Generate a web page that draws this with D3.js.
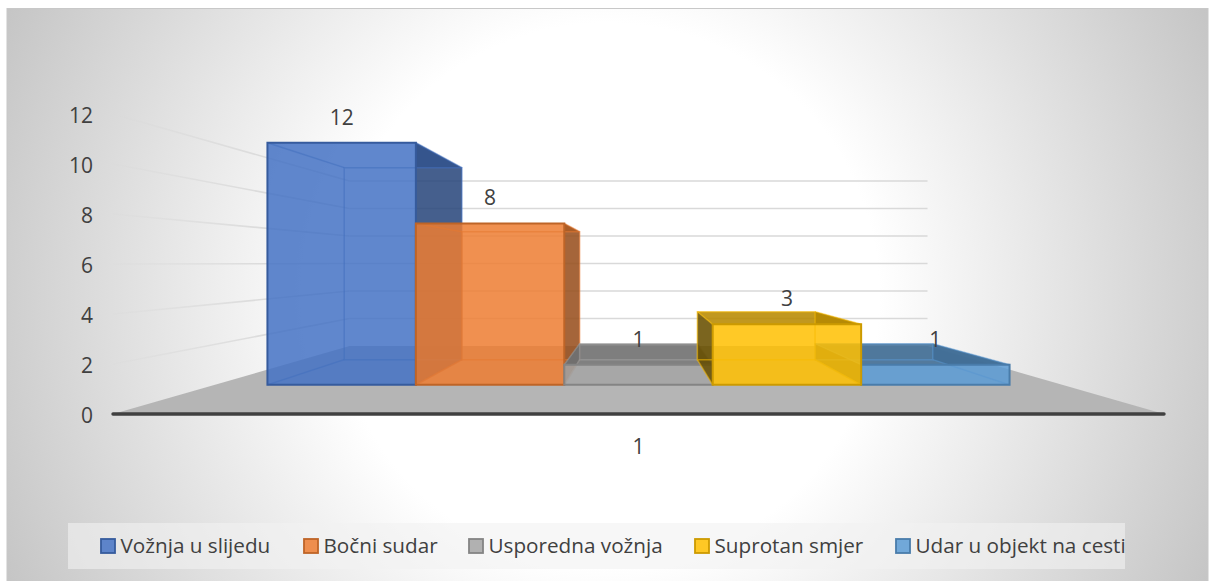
<!DOCTYPE html>
<html><head><meta charset="utf-8">
<script src="https://cdn.jsdelivr.net/npm/d3@7/dist/d3.min.js"></script>
<style>html,body{margin:0;padding:0;background:#fff;overflow:hidden}svg{display:block}text{font-family:"Open Sans","Noto Sans",sans-serif;fill:#404040}</style>
</head><body><svg id="c" width="1209" height="581"></svg>
<script>
const seriesNames = ["Vožnja u slijedu","Bočni sudar","Usporedna vožnja","Suprotan smjer","Udar u objekt na cesti"];
const seriesValues = [12,8,1,3,1];
const seriesColors = ["#4472C4","#ED7D31","#A5A5A5","#FFC000","#5B9BD5"];
const categories = ["1"];
const yTicks = [0,2,4,6,8,10,12];
const paintOrder = [0,1,2,4,3];
const legendSwatchX = [101,304,469,695,896];

const W=1209,H=581;
const svg=d3.select("#c");
const defs=svg.append("defs");

const xFront=d3.scaleLinear().domain([0,1]).range([113,1164]);
const yFront=d3.scaleLinear().domain([0,12]).range([414,114]);
const band=d3.scaleBand().domain(d3.range(seriesNames.length)).range([0.0625,0.9375]);
const cx=xFront(0.5), vy=263;
const wallDepth=0.55, barFront=0.807, barBack=0.64;
const P=(u,v,s)=>[cx+(xFront(u)-cx)*s, vy+(yFront(v)-vy)*s];
const poly=pts=>"M"+pts.map(p=>p.map(n=>n.toFixed(2)).join(",")).join("L")+"Z";

// background
const bg=defs.append("radialGradient").attr("id","bg").attr("gradientUnits","userSpaceOnUse")
 .attr("cx",607).attr("cy",295).attr("r",680);
[[0,"#ffffff"],[0.4,"#ffffff"],[1,"#c3c3c3"]].forEach(([o,c])=>bg.append("stop").attr("offset",o).attr("stop-color",c));
svg.append("rect").attr("x",7).attr("y",8.5).attr("width",1201).attr("height",574)
 .attr("fill","url(#bg)").attr("stroke","#c8c8c8").attr("stroke-width",1);

// floor
svg.append("path").attr("d",poly([P(0,0,1),P(1,0,1),P(1,0,wallDepth),P(0,0,wallDepth)])).attr("fill","#b5b5b5");

// gridlines, fading toward the front of the side wall
const fade=defs.append("linearGradient").attr("id","gridFade").attr("gradientUnits","userSpaceOnUse")
 .attr("x1",xFront(0)).attr("x2",xFront(0)+170).attr("y1",0).attr("y2",0);
[[0,"#d9d9d9",0.25],[1,"#d9d9d9",1]].forEach(([o,c,a])=>fade.append("stop").attr("offset",o).attr("stop-color",c).attr("stop-opacity",a));
const gridG=svg.append("g").attr("fill","none").attr("stroke-width",1.6);
yTicks.filter(v=>v>0).forEach(v=>{
  gridG.append("path").attr("d","M"+[P(0,v,1),P(0,v,wallDepth)].map(p=>p.join(",")).join("L")).attr("stroke","url(#gridFade)");
  gridG.append("path").attr("d","M"+[P(0,v,wallDepth),P(1,v,wallDepth)].map(p=>p.join(",")).join("L")).attr("stroke","#d9d9d9");
});

// bars
const shade=(c,f)=>{const r=d3.rgb(c);return d3.rgb(r.r*f,r.g*f,r.b*f).formatHex();};
const barsG=svg.append("g");
paintOrder.forEach(i=>{
  const v=seriesValues[i],c=seriesColors[i];
  const u0=band(i),u1=u0+band.bandwidth();
  const f=[P(u0,v,barFront),P(u1,v,barFront),P(u1,0,barFront),P(u0,0,barFront)];
  const b=[P(u0,v,barBack),P(u1,v,barBack),P(u1,0,barBack),P(u0,0,barBack)];
  const id="out"+i;
  defs.append("clipPath").attr("id",id).append("path")
    .attr("clip-rule","evenodd").attr("d",`M0,0H${W}V${H}H0Z`+poly(f));
  const g=barsG.append("g");
  const o=g.append("g").attr("clip-path",`url(#${id})`);
  const face=(pts,fill,a)=>o.append("path").attr("d",poly(pts)).attr("fill",fill).attr("fill-opacity",a);
  face(b,shade(c,0.7),0.2);
  face([f[3],f[0],b[0],b[3]],shade(c,0.4),0.85);
  face([f[1],f[2],b[2],b[1]],shade(c,0.64),0.85);
  face([f[0],f[1],b[1],b[0]],shade(c,0.72),0.85);
  g.append("path").attr("d",poly(f)).attr("fill",c).attr("fill-opacity",0.85);
  const edge=shade(c,0.8);
  const lines=g.append("g").attr("fill","none").attr("stroke",shade(c,0.97)).attr("stroke-width",1.5).attr("stroke-opacity",0.55);
  lines.append("path").attr("d",poly(b));
  for(let k=0;k<4;k++) lines.append("path").attr("d","M"+f[k].join(",")+"L"+b[k].join(","));
  g.append("path").attr("d",poly(f)).attr("fill","none").attr("stroke",edge).attr("stroke-width",2);
});

// axis line
svg.append("line").attr("x1",xFront(0)).attr("x2",xFront(1)).attr("y1",yFront(0)).attr("y2",yFront(0))
 .attr("stroke","#404040").attr("stroke-width",3.4).attr("stroke-linecap","round");

// y tick labels
svg.append("g").selectAll("text").data(yTicks).join("text")
 .attr("x",93).attr("y",d=>yFront(d)+8.5).attr("text-anchor","end").attr("font-size",21).text(d=>d);

// category label
svg.append("text").attr("x",cx).attr("y",454).attr("text-anchor","middle").attr("font-size",21).text(categories[0]);

// data labels
svg.append("g").selectAll("text").data(seriesValues).join("text")
 .attr("x",(d,i)=>P(band(i)+band.bandwidth()/2,0,barFront)[0])
 .attr("y",d=>P(0,d,barFront)[1]-18)
 .attr("text-anchor","middle").attr("font-size",21).text(d=>d);

// legend
svg.append("rect").attr("x",68).attr("y",523).attr("width",1057).attr("height",46).attr("fill","#f2f2f2").attr("fill-opacity",0.6);
const lg=svg.append("g").selectAll("g").data(seriesNames).join("g").attr("transform",(d,i)=>`translate(${legendSwatchX[i]},539)`);
lg.append("rect").attr("width",14).attr("height",14).attr("fill",(d,i)=>seriesColors[i]).attr("fill-opacity",0.85)
 .attr("stroke",(d,i)=>shade(seriesColors[i],0.8)).attr("stroke-width",1.8);
lg.append("text").attr("x",19.5).attr("y",13.5).attr("font-size",20.7).text(d=>d);
</script></body></html>
